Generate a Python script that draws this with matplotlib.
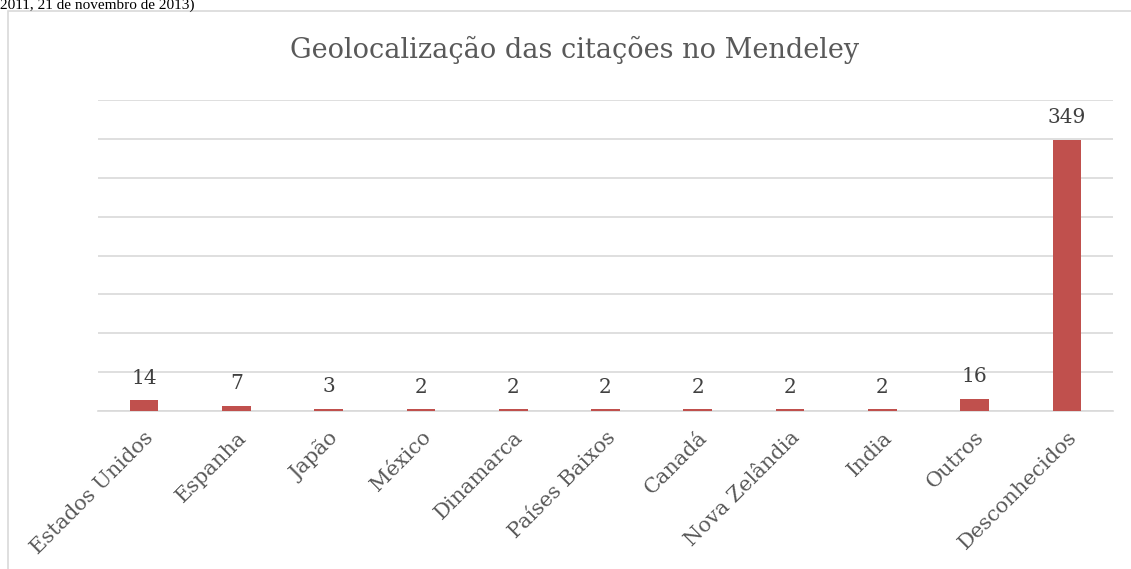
import matplotlib
matplotlib.use('Agg')
import matplotlib.pyplot as plt
from matplotlib.patches import Rectangle

paises = ['Estados Unidos', 'Espanha', 'Japão', 'México', 'Dinamarca',
          'Países Baixos', 'Canadá', 'Nova Zelândia', 'India', 'Outros',
          'Desconhecidos']
citacoes = [14, 7, 3, 2, 2, 2, 2, 2, 2, 16, 349]
grade = [0, 50, 100, 150, 200, 250, 300, 350, 400]

cor_barra = '#C0504D'
cor_texto = '#595959'
fonte = 'DejaVu Serif'

fig = plt.figure(figsize=(11.31, 5.69), dpi=100)

# cabecalho do documento original (no original aparece cortado no topo)
fig.text(0.0, 1 - 9 / 569, '2011, 21 de novembro de 2013)', family='Liberation Serif',
         fontsize=11, color='black', ha='left', va='baseline')

# borda da area do grafico (cortada a direita e embaixo)
fig.patches.append(Rectangle((8 / 1131, -0.1), 1.2, 1 - 11 / 569 + 0.1,
                             transform=fig.transFigure, fill=False,
                             edgecolor='#D9D9D9', linewidth=1.2))

ax = fig.add_axes([98 / 1131, 1 - 411 / 569, (1113 - 98) / 1131, (411 - 100) / 569])
x = range(len(paises))
ax.bar(x, citacoes, width=0.31, color=cor_barra, zorder=3)
for i, v in zip(x, citacoes):
    ax.annotate(str(v), (i, v), xytext=(0, 9), textcoords='offset points',
                ha='center', va='bottom', family=fonte, fontsize=14.5, color='#404040')

ax.set_xlim(-0.5, len(paises) - 0.5)
ax.set_ylim(0, 400)
ax.set_yticks(grade)
ax.yaxis.grid(True, color='#D9D9D9', linewidth=1.2)
ax.tick_params(axis='y', left=False, labelleft=False)
ax.tick_params(axis='x', length=0, pad=12)
ax.set_xticks(list(x))
ax.set_xticklabels(paises, rotation=45, ha='right', rotation_mode='anchor',
                   family=fonte, fontsize=15, color=cor_texto)
for s in ['top', 'right', 'left']:
    ax.spines[s].set_visible(False)
ax.spines['bottom'].set_color('#D9D9D9')
ax.spines['bottom'].set_linewidth(1.2)

fig.text(575 / 1131, 1 - 50 / 569, 'Geolocalização das citações no Mendeley',
         family=fonte, fontsize=19.5, color=cor_texto, ha='center', va='center')

fig.savefig('out.png', dpi=100)
